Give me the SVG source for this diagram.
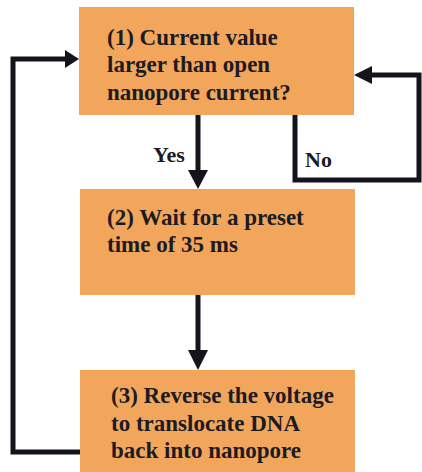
<svg xmlns="http://www.w3.org/2000/svg" width="422" height="472" viewBox="0 0 422 472">
<style>
.box{fill:#F2A65C}
.c{fill:none;stroke:#15141c;stroke-width:5}
.h{fill:#15141c}
</style>
<rect width="422" height="472" fill="#ffffff"/>
<g font-family="Liberation Serif, DejaVu Serif, serif" font-weight="bold" font-size="23" fill="#1c1a22">
<g id="node1">
<rect class="box" x="79" y="7" width="275" height="108"/>
<text x="107" y="45">(1) Current value</text>
<text x="107" y="72">larger than open</text>
<text x="107" y="100">nanopore current?</text>
</g>
<g id="node2">
<rect class="box" x="80" y="189" width="275" height="106"/>
<text x="107" y="225">(2) Wait for a preset</text>
<text x="107" y="252">time of 35 ms</text>
</g>
<g id="node3">
<rect class="box" x="80" y="370" width="275" height="102"/>
<text x="111" y="403">(3) Reverse the voltage</text>
<text x="111" y="431">to translocate DNA</text>
<text x="111" y="458">back into nanopore</text>
</g>
<g id="connectors">
<path class="c" d="M198 115 V172"/>
<polygon class="h" points="188,170 208,170 198,189"/>
<path class="c" d="M198 295 V352"/>
<polygon class="h" points="188,350 208,350 198,370"/>
<path class="c" d="M295 115 V180 H419 V75 H370"/>
<polygon class="h" points="372,66 372,84 354,75"/>
<path class="c" d="M80 452 H13 V59 H67"/>
<polygon class="h" points="65,50 65,68 79,59"/>
<text x="153" y="162" font-size="22">Yes</text>
<text x="305" y="167" font-size="22">No</text>
</g>
</g>
</svg>
